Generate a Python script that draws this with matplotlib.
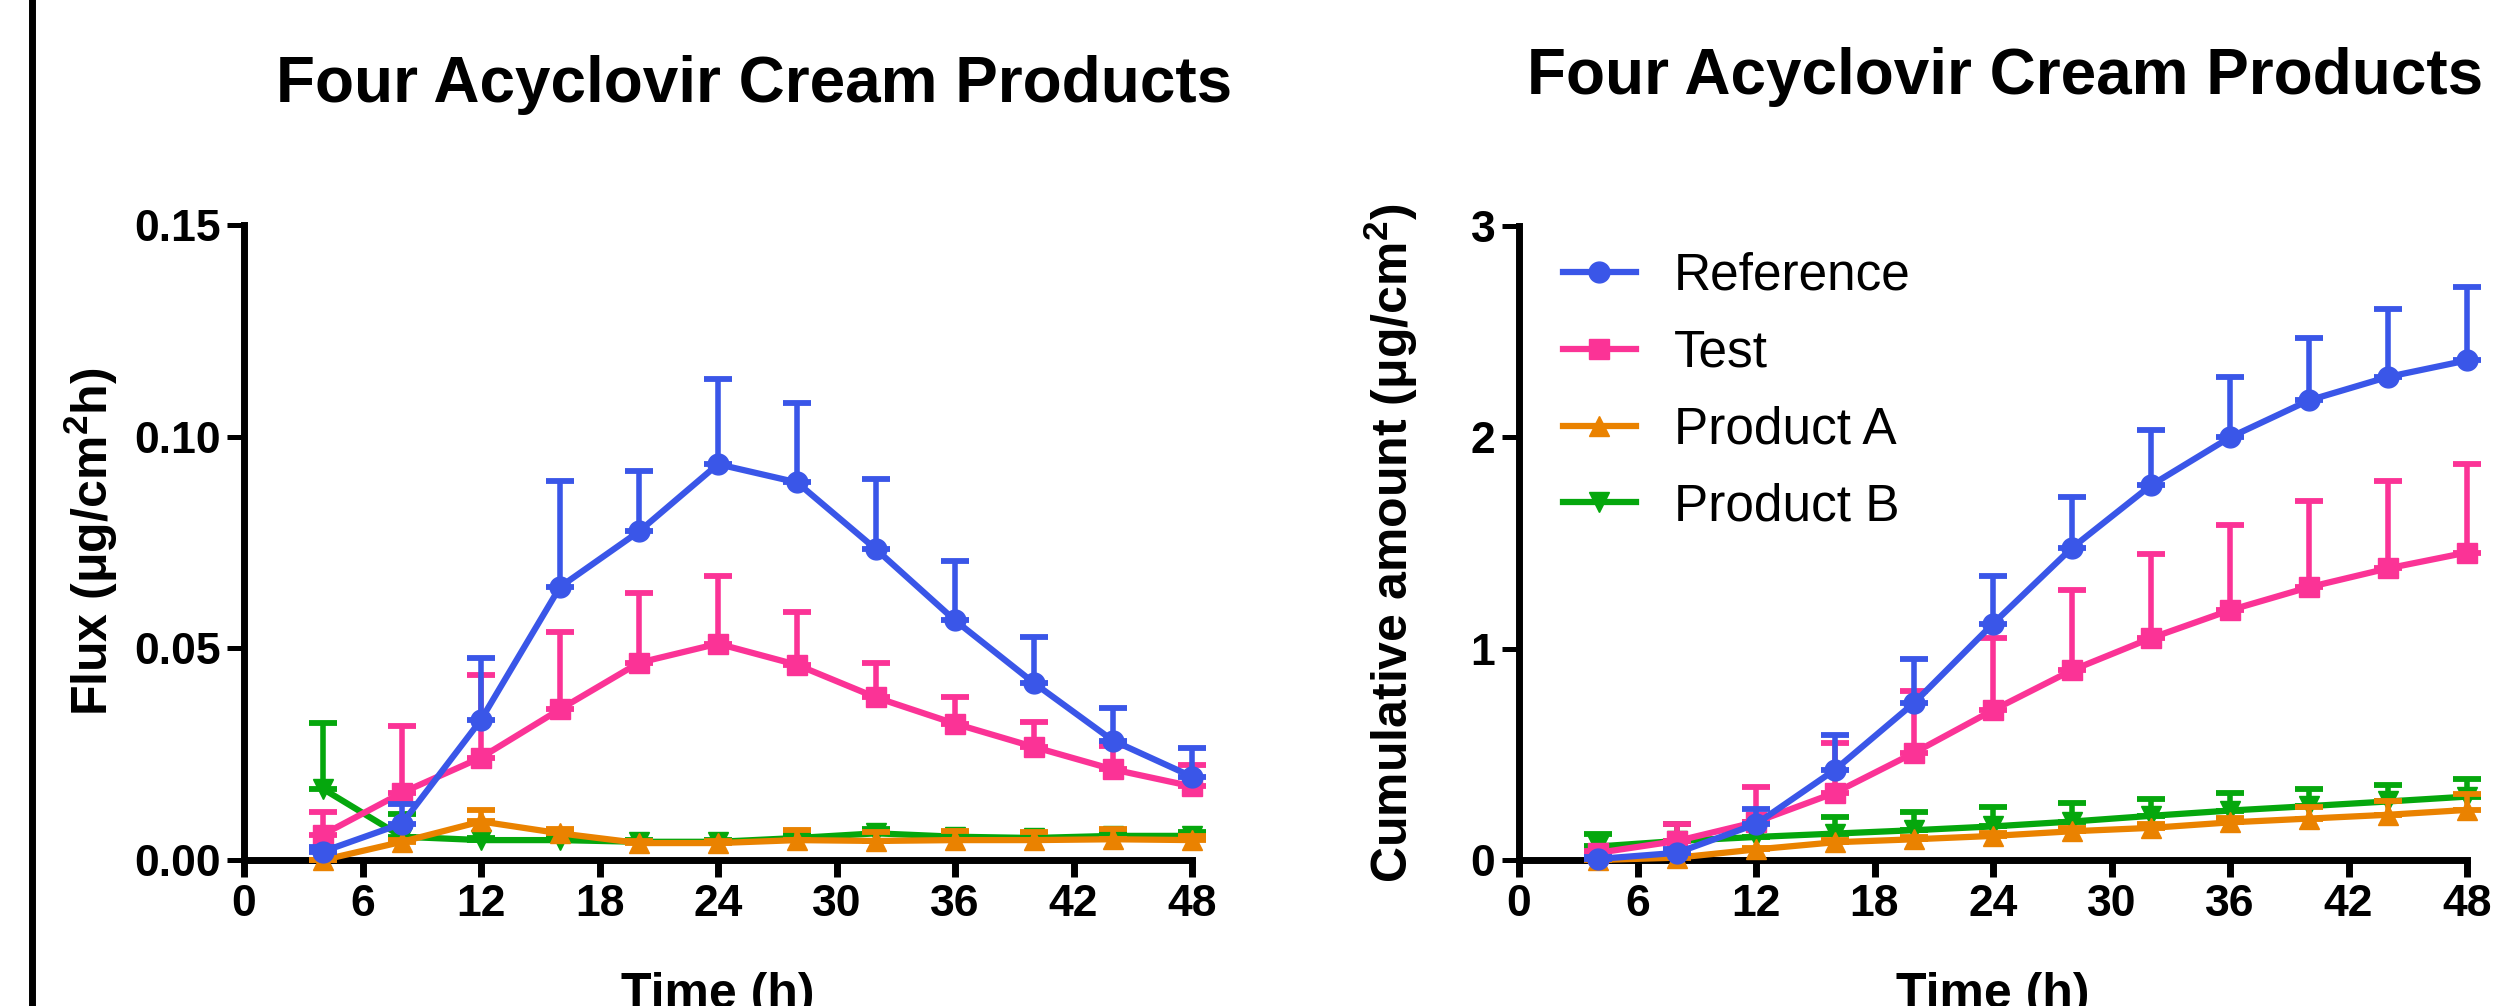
import matplotlib
matplotlib.use("Agg")
import matplotlib.pyplot as plt
from matplotlib.lines import Line2D
import numpy as np

plt.rcParams['font.family'] = ['Liberation Sans', 'DejaVu Sans']
plt.rcParams['mathtext.fontset'] = 'custom'
plt.rcParams['mathtext.rm'] = 'Liberation Sans'
plt.rcParams['mathtext.bf'] = 'Liberation Sans:bold'

# sampling times (h)
hours = [4, 8, 12, 16, 20, 24, 28, 32, 36, 40, 44, 48]
x_ticks = [0, 6, 12, 18, 24, 30, 36, 42, 48]

names = ["Reference", "Test", "Product A", "Product B"]
colors = ["#3a56e8", "#fb3396", "#ea8200", "#05a70d"]
markers = ["o", "s", "^", "v"]

# flux (ug/cm2/h), mean and upper SD
flux_ref = [0.002, 0.0086, 0.0331, 0.0645, 0.0776, 0.0935, 0.0892, 0.0734, 0.0566, 0.0418, 0.0282, 0.0197]
flux_ref_sd = [0.001, 0.0046, 0.0147, 0.025, 0.0144, 0.0201, 0.0188, 0.0166, 0.014, 0.0108, 0.0077, 0.0068]
flux_test = [0.006, 0.0159, 0.0242, 0.0356, 0.0466, 0.0511, 0.0461, 0.0384, 0.0322, 0.0267, 0.0214, 0.0174]
flux_test_sd = [0.0054, 0.0157, 0.0196, 0.0182, 0.0165, 0.0159, 0.0124, 0.0082, 0.0062, 0.006, 0.0056, 0.0051]
flux_a = [0.0, 0.0043, 0.0091, 0.0063, 0.004, 0.004, 0.0047, 0.0045, 0.0047, 0.0047, 0.0049, 0.0047]
flux_a_sd = [0.0, 0.0005, 0.0026, 0.001, 0.0005, 0.0005, 0.0025, 0.0021, 0.0021, 0.0019, 0.0025, 0.001]
flux_b = [0.0168, 0.0055, 0.0047, 0.0047, 0.0043, 0.0043, 0.0052, 0.0063, 0.0055, 0.0052, 0.0057, 0.0057]
flux_b_sd = [0.0156, 0.0054, 0.0005, 0.0005, 0.0005, 0.0005, 0.001, 0.001, 0.001, 0.001, 0.001, 0.0008]

# cumulative amount (ug/cm2), mean and upper SD
cum_ref = [0.005, 0.034, 0.17, 0.427, 0.743, 1.118, 1.477, 1.773, 2.0, 2.175, 2.286, 2.364]
cum_ref_sd = [0.01, 0.02, 0.069, 0.164, 0.207, 0.227, 0.243, 0.261, 0.284, 0.295, 0.321, 0.347]
cum_test = [0.034, 0.09, 0.18, 0.318, 0.507, 0.709, 0.898, 1.05, 1.182, 1.291, 1.38, 1.455]
cum_test_sd = [0.01, 0.08, 0.165, 0.234, 0.293, 0.343, 0.379, 0.398, 0.402, 0.407, 0.415, 0.42]
cum_a = [0.0, 0.011, 0.05, 0.084, 0.098, 0.114, 0.136, 0.152, 0.178, 0.196, 0.214, 0.237]
cum_a_sd = [0.005, 0.005, 0.008, 0.01, 0.012, 0.012, 0.015, 0.018, 0.02, 0.054, 0.064, 0.074]
cum_b = [0.064, 0.09, 0.109, 0.125, 0.141, 0.159, 0.182, 0.209, 0.234, 0.255, 0.277, 0.3]
cum_b_sd = [0.061, 0.08, 0.07, 0.08, 0.086, 0.091, 0.086, 0.082, 0.085, 0.079, 0.08, 0.082]

W, H = 2497, 1006
fig = plt.figure(figsize=(W / 100, H / 100), dpi=100)


def px_axes(x0, y0, x1, y1):
    return fig.add_axes([x0 / W, 1 - y1 / H, (x1 - x0) / W, (y1 - y0) / H])


def draw(ax, means, sds):
    # draw back to front so Reference ends up on top
    for i in reversed(range(len(names))):
        zeros = np.zeros(len(hours))
        cont = ax.errorbar(hours, means[i], yerr=[zeros, sds[i]], color=colors[i],
                           lw=4.5, marker=markers[i], ms=15, elinewidth=4,
                           capsize=10, capthick=4.2, zorder=5 + (3 - i))
        for art in cont.get_children():
            art.set_clip_on(False)
            art.set_zorder(5 + (3 - i))
    ax.set_xlim(0, 48)
    ax.set_xticks(x_ticks)
    for s in ["top", "right"]:
        ax.spines[s].set_visible(False)
    for s in ["left", "bottom"]:
        ax.spines[s].set_linewidth(5)
    ax.tick_params(axis="x", length=12, width=5, pad=5, labelsize=32)
    ax.tick_params(axis="y", length=12, width=3.6, pad=5, labelsize=32)
    for lab in ax.get_xticklabels() + ax.get_yticklabels():
        lab.set_fontweight("bold")


ax1 = px_axes(244, 225, 1192, 860)
draw(ax1, [flux_ref, flux_test, flux_a, flux_b],
     [flux_ref_sd, flux_test_sd, flux_a_sd, flux_b_sd])
ax1.set_ylim(0, 0.15)
ax1.set_yticks([0, 0.05, 0.10, 0.15])
ax1.set_yticklabels(["0.00", "0.05", "0.10", "0.15"], fontweight="bold")

ax2 = px_axes(1519, 226, 2467, 860)
draw(ax2, [cum_ref, cum_test, cum_a, cum_b],
     [cum_ref_sd, cum_test_sd, cum_a_sd, cum_b_sd])
ax2.set_ylim(0, 3)
ax2.set_yticks([0, 1, 2, 3])
ax2.set_yticklabels(["0", "1", "2", "3"], fontweight="bold")

handles = [Line2D([], [], color=c, marker=m, lw=4.5, ms=15) for c, m in zip(colors, markers)]
fig.legend(handles, names, loc="upper left", bbox_to_anchor=(1563 / W, 1 - 252 / H),
           frameon=False, fontsize=37, borderpad=0, borderaxespad=0,
           handlelength=1.42, handletextpad=0.74, labelspacing=0.54)

# titles and axis labels
title = "Four Acyclovir Cream Products"
fig.text(276 / W, 1 - 102 / H, title, fontsize=46, fontweight="bold", ha="left", va="baseline")
fig.text(1527 / W, 1 - 94 / H, title, fontsize=46, fontweight="bold", ha="left", va="baseline")

fig.text(91 / W, 1 - 542 / H, r"Flux (μg/cm$^{\mathbf{2}}$h)", fontsize=36, fontweight="bold",
         rotation=90, ha="center", va="center")
fig.text(1391 / W, 1 - 543 / H, r"Cumulative amount (μg/cm$^{\mathbf{2}}$)", fontsize=36,
         fontweight="bold", rotation=90, ha="center", va="center")

fig.text(718 / W, 1 - 1008 / H, "Time (h)", fontsize=36, fontweight="bold", ha="center", va="baseline")
fig.text(1993 / W, 1 - 1008 / H, "Time (h)", fontsize=36, fontweight="bold", ha="center", va="baseline")

# black frame line at the far left
fig.add_artist(Line2D([31.5 / W, 31.5 / W], [0, 1], transform=fig.transFigure, color="black", lw=5))

fig.savefig("out.png", dpi=100)
